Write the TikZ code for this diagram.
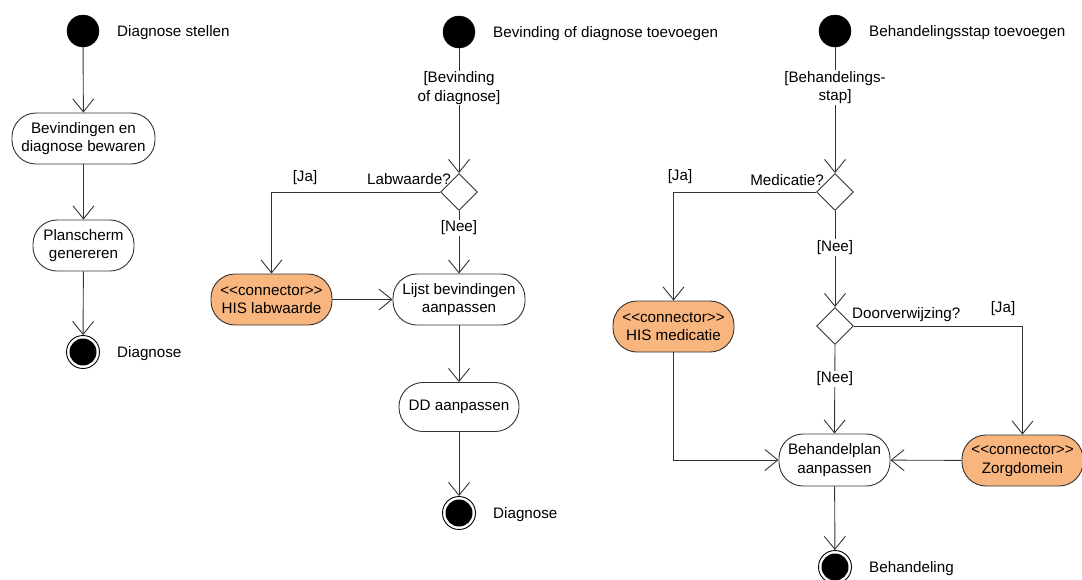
\documentclass[tikz,border=0pt]{standalone}
\usepackage{fontspec}
\setmainfont{Liberation Sans}
\usetikzlibrary{arrows.meta,shapes.geometric}
\definecolor{conn}{HTML}{F8B57E}
\definecolor{ln}{HTML}{333333}
\newcommand{\stereo}[1]{<{}<#1>{}>}
\begin{document}
\begin{tikzpicture}[x=1pt,y=-1pt,
  font=\fontsize{15.2}{18.5}\selectfont,
  flow/.style={draw=ln,line width=0.9pt,-{Straight Barb[length=13pt,width=21pt,line width=0.9pt]}},
  act/.style={draw=ln,line width=0.9pt,fill=white,rounded corners=24pt,
    inner sep=0pt,align=center,minimum height=51pt},
  connbox/.style={act,fill=conn},
  startnode/.style={circle,fill=black,draw=black,minimum size=32pt,inner sep=0pt},
  endnode/.style={circle,draw=black,line width=0.9pt,fill=white,minimum size=33pt,inner sep=0pt,
    path picture={\fill[black] (path picture bounding box.center) circle (13.5pt);}},
  decision/.style={draw=ln,line width=0.9pt,fill=white,minimum width=37pt,minimum height=37pt,
    inner sep=0pt,shape=diamond},
  guard/.style={fill=white,inner sep=1pt,align=center},
  lbl/.style={inner sep=0pt},
]
\useasboundingbox (0,0) rectangle (1082,579);

% --- Diagnose stellen ---
\node[startnode] (s1) at (83,31) {};
\node[lbl,anchor=west] (s1l) at (117,32.5) {Diagnose stellen};
\node[act,minimum width=143pt] (a1) at (83.5,138.5) {Bevindingen en\\diagnose bewaren};
\node[act,minimum width=101pt] (a2) at (83.5,245.5) {Planscherm\\genereren};
\node[endnode] (e1) at (83,352) {};
\node[lbl,anchor=west] (e1l) at (117,353.5) {Diagnose};
\draw[flow] (s1) -- (a1);
\draw[flow] (a1) -- (a2);
\draw[flow] (a2) -- (e1);

% --- Bevinding of diagnose toevoegen ---
\node[startnode] (s2) at (459,32) {};
\node[lbl,anchor=west] (s2l) at (493,33.5) {Bevinding of diagnose toevoegen};
\node[decision] (d2) at (459,192) {};
\node[lbl,anchor=east] (d2l) at (451,179.5) {Labwaarde?};
\node[connbox,minimum width=121pt] (his1) at (271.5,299.5) {\stereo{connector}\\HIS labwaarde};
\node[act,minimum width=132pt] (lijst) at (459,299.5) {Lijst bevindingen\\aanpassen};
\node[act,minimum width=120pt,minimum height=49pt] (dd) at (459,407) {DD aanpassen};
\node[endnode] (e2) at (459,513) {};
\node[lbl,anchor=west] (e2l) at (493,514.5) {Diagnose};
\draw[flow] (s2) -- node[guard,pos=0.32] (g2) {[Bevinding\\of diagnose]} (d2.north);
\draw[flow] (d2.west) -| (his1.north);
\node[lbl] (ja2) at (305,178) {[Ja]};
\draw[flow] (d2.south) -- node[guard,pos=0.27] (nee2) {[Nee]} (lijst.north);
\draw[flow] (his1) -- (lijst);
\draw[flow] (lijst) -- (dd);
\draw[flow] (dd) -- (e2);

% --- Behandelingsstap toevoegen ---
\node[startnode] (s3) at (835,31) {};
\node[lbl,anchor=west] (s3l) at (869,32.5) {Behandelingsstap toevoegen};
\node[decision] (d3) at (835,192) {};
\node[lbl,anchor=east] (d3l) at (824,180.5) {Medicatie?};
\node[decision] (d4) at (835,326) {};
\node[lbl,anchor=west] (d4l) at (852,314.5) {Doorverwijzing?};
\node[connbox,minimum width=121pt] (his2) at (673.5,326.5) {\stereo{connector}\\HIS medicatie};
\node[act,minimum width=111pt,minimum height=52pt] (plan) at (834.5,460) {Behandelplan\\aanpassen};
\node[connbox,minimum width=121pt,minimum height=51pt] (zorg) at (1022.5,460.5) {\stereo{connector}\\Zorgdomein};
\node[endnode] (e3) at (835,567) {};
\node[lbl,anchor=west] (e3l) at (869,568.5) {Behandeling};
\draw[flow] (s3) -- node[guard,pos=0.32] (g3) {[Behandelings-\\stap]} (d3.north);
\draw[flow] (d3.west) -| (his2.north);
\node[lbl] (ja3) at (680,177) {[Ja]};
\draw[flow] (d3.south) -- node[guard,pos=0.38] (nee3) {[Nee]} (d4.north);
\draw[flow] (d4.east) -| (zorg.north);
\node[lbl] (ja4) at (1003,309) {[Ja]};
\draw[flow] (d4.south) -- node[guard,pos=0.38] (nee4) {[Nee]} (plan.north);
\draw[flow] (his2.south) |- (plan.west);
\draw[flow] (zorg) -- (plan);
\draw[flow] (plan) -- (e3);
\end{tikzpicture}
\end{document}
